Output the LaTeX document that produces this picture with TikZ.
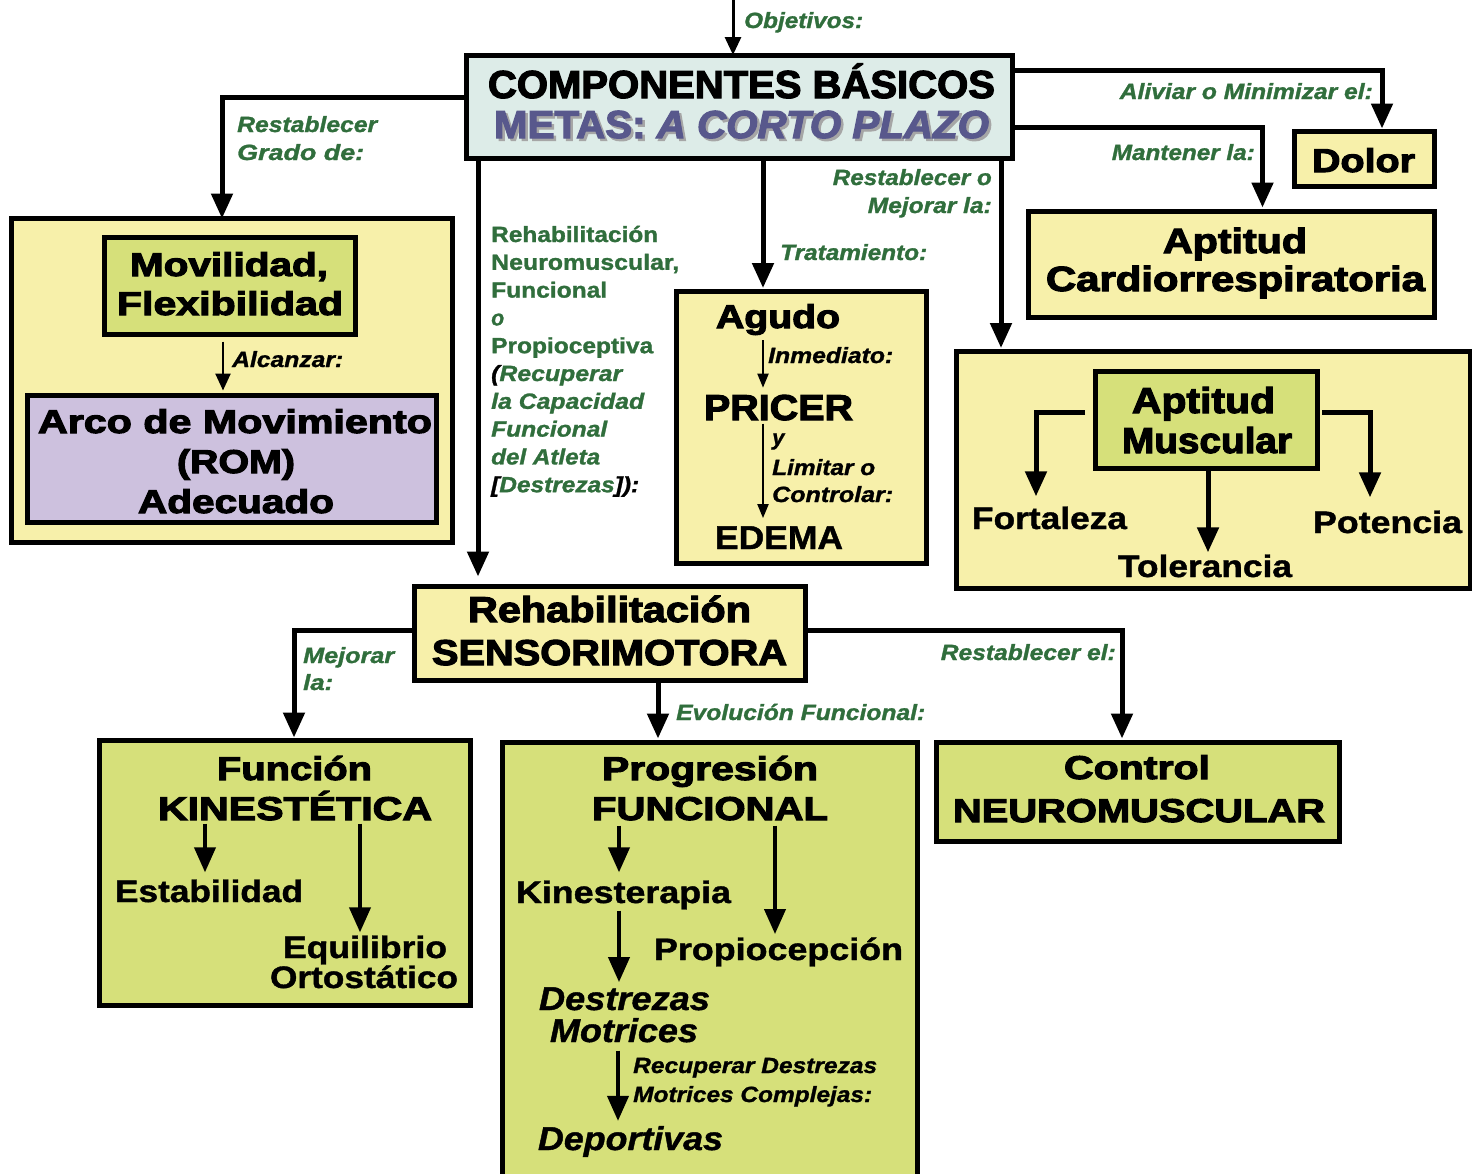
\documentclass[tikz,border=0pt]{standalone}
\usepackage{fontspec}
\usepackage{graphicx}
\setmainfont{Liberation Sans}
\newfontfamily\heavyfont{Liberation Sans Bold}[FakeBold=3, ItalicFont={Liberation Sans Bold Italic}, ItalicFeatures={FakeBold=3}]
\newfontfamily\firmfont{Liberation Sans Bold}[FakeBold=1.2, ItalicFont={Liberation Sans Bold Italic}, ItalicFeatures={FakeBold=1.2}]
\usetikzlibrary{arrows.meta}

\definecolor{topfill}{RGB}{221,236,232}
\definecolor{paleyellow}{RGB}{247,240,170}
\definecolor{limegreen}{RGB}{214,224,122}
\definecolor{lilac}{RGB}{205,193,222}
\definecolor{leafgreen}{RGB}{48,110,60}
\definecolor{slatepurple}{RGB}{88,88,140}

% set #2 and stretch it horizontally to a width of #1 pt
\newsavebox\fitbox
\newcommand\fitw[2]{\sbox\fitbox{#2}\pgfmathsetmacro\fitratio{#1/\the\wd\fitbox}\scalebox{\fitratio}[1]{\usebox\fitbox}}

\tikzset{
  panel/.style={draw=black, line width=5pt, inner sep=0pt, outer sep=0pt},
  title/.style={font={\fontsize{#1}{#1}\selectfont\heavyfont}, inner sep=0pt, anchor=base},
  title/.default=33,
  item/.style={font={\fontsize{#1}{#1}\selectfont\firmfont}, inner sep=0pt, anchor=base},
  item/.default=31,
  note/.style={font={\fontsize{22}{22}\selectfont\firmfont\itshape}, text=leafgreen, inner sep=0pt, anchor=base west},
  upnote/.style={font={\fontsize{22}{22}\selectfont\firmfont}, text=leafgreen, inner sep=0pt, anchor=base west},
  blacknote/.style={font={\fontsize{22}{22}\selectfont\firmfont\itshape}, inner sep=0pt, anchor=base west},
  conn/.style={line width=5pt, -{Triangle[width=21pt,length=25pt]}},
  mid/.style={line width=4pt, -{Triangle[width=21pt,length=25pt]}},
  fine/.style={line width=2pt, -{Triangle[width=11pt,length=14pt]}},
  alc/.style={line width=2.5pt, -{Triangle[width=15pt,length=17pt]}},
  objarr/.style={line width=3pt, -{Triangle[width=16pt,length=18pt]}},
}

\begin{document}
\begin{tikzpicture}[x=1pt, y=-1pt]
\fill[white] (0,0) rectangle (1472,1173);
\useasboundingbox (0,0) rectangle (1472,1173);

% ---------- boxes ----------
\node[panel, fill=topfill, minimum width=546, minimum height=103] (top) at (739,106.5) {};
\node[panel, fill=paleyellow, minimum width=441, minimum height=324] (lft) at (232,380.5) {};
\node[panel, fill=limegreen, minimum width=251, minimum height=97] (mov) at (230,286) {};
\node[panel, fill=lilac, minimum width=409, minimum height=127] (rom) at (232,459) {};
\node[panel, fill=paleyellow, minimum width=250, minimum height=272] (agudo) at (801,427) {};
\node[panel, fill=paleyellow, minimum width=140, minimum height=55] (dolor) at (1364.5,159) {};
\node[panel, fill=paleyellow, minimum width=406, minimum height=106] (cardio) at (1231.5,264.5) {};
\node[panel, fill=paleyellow, minimum width=514, minimum height=237] (musc) at (1213,469.5) {};
\node[panel, fill=limegreen, minimum width=222, minimum height=97] (muscin) at (1206,419.5) {};
\node[panel, fill=paleyellow, minimum width=391, minimum height=94] (sens) at (610,633.5) {};
\node[panel, fill=limegreen, minimum width=371, minimum height=265] (func) at (285,873) {};
\node[panel, fill=limegreen, minimum width=415, minimum height=445] (prog) at (710,965) {};
\node[panel, fill=limegreen, minimum width=403, minimum height=99] (ctrl) at (1138,792) {};

% ---------- box titles ----------
\node[title=39] (compT) at (741.5,98) {\fitw{507}{COMPONENTES BÁSICOS}};
\node[title=39, text=gray!70] (metasS) at (744,140.5) {\fitw{495}{METAS: {\itshape A CORTO PLAZO}}};
\node[title=39, text=slatepurple] (metas) at (741.5,138) {\fitw{495}{METAS: {\itshape A CORTO PLAZO}}};

\node[title] (movT1) at (229,276) {\fitw{198}{Movilidad,}};
\node[title] (movT2) at (230,315) {\fitw{226}{Flexibilidad}};

\node[title] (romT1) at (235,433) {\fitw{394}{Arco de Movimiento}};
\node[title] (romT2) at (236,473) {\fitw{118}{(ROM)}};
\node[title] (romT3) at (236,513) {\fitw{196}{Adecuado}};

\node[title] (agudoT) at (778,328) {\fitw{124}{Agudo}};
\node[title=36] (pricer) at (778.5,420) {\fitw{149}{PRICER}};
\node[item=33] (edema) at (779,549) {\fitw{128}{EDEMA}};

\node[title] (dolorT) at (1363.5,172) {\fitw{103}{Dolor}};
\node[title=35] (cardT1) at (1235,253) {\fitw{144}{Aptitud}};
\node[title=35] (cardT2) at (1235.5,291) {\fitw{379}{Cardiorrespiratoria}};

\node[title=36] (muscT1) at (1203.5,413) {\fitw{143}{Aptitud}};
\node[title=36] (muscT2) at (1207,453) {\fitw{170}{Muscular}};
\node[item] (fort) at (1049.5,529) {\fitw{155}{Fortaleza}};
\node[item] (toler) at (1205,577) {\fitw{174}{Tolerancia}};
\node[item] (poten) at (1387.5,533) {\fitw{149}{Potencia}};

\node[title=36] (sensT1) at (609.5,622) {\fitw{283}{Rehabilitación}};
\node[title=36] (sensT2) at (609.5,665) {\fitw{355}{SENSORIMOTORA}};

\node[title] (funT) at (294.5,780) {\fitw{155}{Función}};
\node[title] (kin) at (295,820) {\fitw{274}{KINESTÉTICA}};
\node[item] (estab) at (209,902) {\fitw{188}{Estabilidad}};
\node[item] (equil) at (365,958) {\fitw{164}{Equilibrio}};
\node[item] (orto) at (364,988) {\fitw{188}{Ortostático}};

\node[title] (progT) at (710,780) {\fitw{216}{Progresión}};
\node[title] (funcional) at (710,820) {\fitw{236}{FUNCIONAL}};
\node[item] (kinest) at (623.5,903) {\fitw{215}{Kinesterapia}};
\node[item] (propio) at (778.5,960) {\fitw{249}{Propiocepción}};
\node[item=33, font={\fontsize{33}{33}\selectfont\firmfont\itshape}] (destr) at (624.5,1010) {\fitw{171}{Destrezas}};
\node[item=33, font={\fontsize{33}{33}\selectfont\firmfont\itshape}] (motr) at (624,1042) {\fitw{148}{Motrices}};
\node[item=33, font={\fontsize{33}{33}\selectfont\firmfont\itshape}] (deport) at (630.5,1150) {\fitw{185}{Deportivas}};

\node[title] (ctrlT1) at (1137,779) {\fitw{146}{Control}};
\node[title] (ctrlT2) at (1139,822) {\fitw{372}{NEUROMUSCULAR}};

% ---------- black notes ----------
\node[blacknote] (alcanzar) at (232,367) {\fitw{111}{Alcanzar:}};
\node[blacknote] (inmed) at (768,363) {\fitw{125}{Inmediato:}};
\node[blacknote] (yy) at (772,445) {y};
\node[blacknote] (limitar) at (772,475) {\fitw{103}{Limitar o}};
\node[blacknote] (controlar) at (772,502) {\fitw{121}{Controlar:}};
\node[blacknote] (recup1) at (633,1073) {\fitw{244}{Recuperar Destrezas}};
\node[blacknote] (recup2) at (633,1102) {\fitw{239}{Motrices Complejas:}};

% ---------- green notes ----------
\node[note] (objetivos) at (744,28) {\fitw{119}{Objetivos:}};
\node[note] (rgrado1) at (237,132) {\fitw{140}{Restablecer}};
\node[note] (rgrado2) at (237,160) {\fitw{127}{Grado de:}};
\node[note, anchor=base east] (aliviar) at (1373,99) {\fitw{253}{Aliviar o Minimizar el:}};
\node[note, anchor=base east] (mantener) at (1255,160) {\fitw{143}{Mantener la:}};
\node[note, anchor=base east] (rmej1) at (992,185) {\fitw{159}{Restablecer o}};
\node[note, anchor=base east] (rmej2) at (992,213) {\fitw{124}{Mejorar la:}};
\node[note] (tratam) at (780,260) {\fitw{147}{Tratamiento:}};
\foreach \w/\t [count=\i] in {
    167/{Rehabilitación},
    188/{Neuromuscular,},
    116/{Funcional},
    13/{\itshape o},
    162/{Propioceptiva},
    131/{\textcolor{black}{\itshape (}\itshape Recuperar},
    153/{\itshape la Capacidad},
    116/{\itshape Funcional},
    109/{\itshape del Atleta},
    148/{\itshape\textcolor{black}{[}Destrezas\textcolor{black}{]):}}}
  \node[upnote] (rn\i) at (491,{242+27.8*(\i-1)}) {\fitw{\w}{\t}};
\node[note] (mej1) at (303,663) {\fitw{91}{Mejorar}};
\node[note] (mej2) at (303,690) {\fitw{30}{la:}};
\node[note] (evol) at (676,720) {\fitw{249}{Evolución Funcional:}};
\node[note, anchor=base east] (restel) at (1116,660) {\fitw{175}{Restablecer el:}};

% ---------- connectors ----------
\coordinate (src) at (733,0);
\draw[objarr] (src) -- (src |- top.north);

\coordinate (k1) at (222,97.5);
\draw[conn] (top.west |- k1) -| (k1 |- lft.north);
\coordinate (k2) at (478,0);
\draw[conn, shorten >=10pt] (k2 |- top.south) -- (k2 |- sens.north);
\coordinate (k3) at (763,0);
\draw[conn, shorten >=3pt] (k3 |- top.south) -- (k3 |- agudo.north);
\coordinate (k4) at (1001,0);
\draw[conn, shorten >=3pt] (k4 |- top.south) -- (k4 |- musc.north);
\coordinate (k5) at (1382,70);
\draw[conn, shorten >=3pt] (top.east |- k5) -| (k5 |- dolor.north);
\coordinate (k6) at (1262.5,127.5);
\draw[conn, shorten >=4pt] (top.east |- k6) -| (k6 |- cardio.north);

\coordinate (k7) at (223,0);
\draw[alc, shorten <=7pt, shorten >=5pt] (k7 |- mov.south) -- (k7 |- rom.north);

\coordinate (k8) at (763,0);
\draw[fine, shorten <=5pt, shorten >=7pt] (k8 |- agudoT.south) -- (k8 |- pricer.north);
\draw[fine, shorten <=3pt, shorten >=8pt] (k8 |- pricer.south) -- (k8 |- edema.north);

\coordinate (k9) at (1036,412);
\draw[conn, shorten <=10pt, shorten >=10pt] (muscin.west |- k9) -| (k9 |- fort.north);
\coordinate (k10) at (1208,0);
\draw[conn, shorten >=2pt] (k10 |- muscin.south) -- (k10 |- toler.north);
\coordinate (k11) at (1370,412);
\draw[conn, shorten <=5pt, shorten >=13pt] (muscin.east |- k11) -| (k11 |- poten.north);

\coordinate (k12) at (294,630.5);
\draw[conn, shorten >=3pt] (sens.west |- k12) -| (k12 |- func.north);
\coordinate (k13) at (658,0);
\draw[conn, shorten >=4pt] (k13 |- sens.south) -- (k13 |- prog.north);
\coordinate (k14) at (1122,630.5);
\draw[conn, shorten >=4pt] (sens.east |- k14) -| (k14 |- ctrl.north);

\coordinate (k15) at (205,0);
\draw[mid, shorten <=3pt, shorten >=7pt] (k15 |- kin.south) -- (k15 |- estab.north);
\coordinate (k16) at (360,0);
\draw[mid, shorten <=3pt, shorten >=3pt] (k16 |- kin.south) -- (k16 |- equil.north);

\coordinate (k17) at (619,0);
\draw[mid, shorten <=5pt, shorten >=8pt] (k17 |- funcional.south) -- (k17 |- kinest.north);
\coordinate (k18) at (775,0);
\draw[mid, shorten <=5pt, shorten >=3pt] (k18 |- funcional.south) -- (k18 |- propio.north);
\draw[mid, shorten <=1pt, shorten >=5pt] (k17 |- kinest.south) -- (k17 |- destr.north);
\coordinate (k19) at (618,0);
\draw[mid, shorten <=8pt, shorten >=5pt] (k19 |- motr.south) -- (k19 |- deport.north);
\end{tikzpicture}
\end{document}
